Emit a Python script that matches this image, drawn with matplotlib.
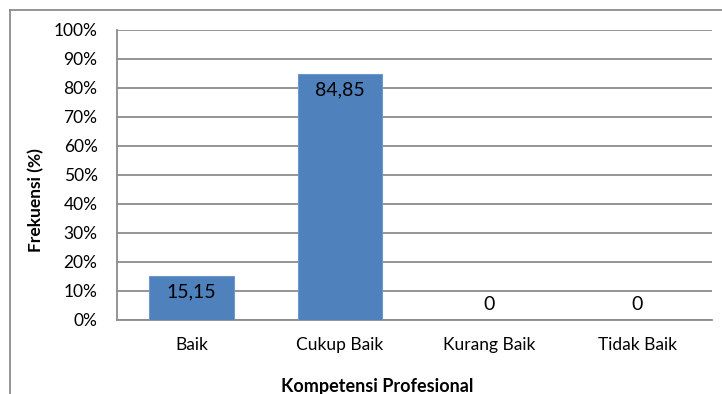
import matplotlib.pyplot as plt
from matplotlib.lines import Line2D
from matplotlib.ticker import FuncFormatter

categories = ['Baik', 'Cukup Baik', 'Kurang Baik', 'Tidak Baik']
values = [15.15, 84.85, 0, 0]
value_labels = ['15,15', '84,85', '0', '0']

plt.rcParams['font.family'] = ['Lato', 'DejaVu Sans']

fig = plt.figure(figsize=(7.22, 3.94), dpi=100)
ax = fig.add_axes([0.162, 0.188, 0.824, 0.736])

x = range(len(categories))
bars = ax.bar(x, values, width=0.57, color='#4F81BD', edgecolor='#6E97CA', linewidth=0.8, zorder=3)

for b, v, lab in zip(bars, values, value_labels):
    if v > 5:
        ax.text(b.get_x() + b.get_width() / 2, v - 2.5, lab, ha='center', va='top', fontsize=14, zorder=4)
    else:
        ax.text(b.get_x() + b.get_width() / 2, 2.5, lab, ha='center', va='bottom', fontsize=14, zorder=4)

ax.set_xlim(-0.5, len(categories) - 0.5)
ax.set_ylim(0, 100)
ax.set_yticks(range(0, 101, 10))
ax.yaxis.set_major_formatter(FuncFormatter(lambda v, p: f'{int(v)}%'))
ax.set_xticks(list(x))
ax.set_xticklabels(categories)
ax.tick_params(axis='both', length=0, labelsize=12.5)
ax.tick_params(axis='x', pad=12)
ax.tick_params(axis='y', pad=14)

ax.grid(axis='y', color='#8C8C8C', linewidth=1.3, zorder=0)
for s in ['top', 'right']:
    ax.spines[s].set_visible(False)
for s in ['left', 'bottom']:
    ax.spines[s].set_color('#8C8C8C')
    ax.spines[s].set_linewidth(1.3)

# axis titles are centred on the whole chart frame, not the plot area
ax.set_xlabel('Kompetensi Profesional', fontweight='bold', fontsize=13, labelpad=14)
ax.xaxis.set_label_coords(0.437, -0.2)
ax.set_ylabel('Frekuensi (%)', fontweight='bold', fontsize=12.5)
ax.yaxis.set_label_coords(-0.122, 0.414)

# outer chart frame (cut off on the right and bottom)
fig.add_artist(Line2D([10 / 722, 10 / 722], [0, 1 - 10 / 394], color='#8C8C8C', linewidth=1.3, transform=fig.transFigure))
fig.add_artist(Line2D([10 / 722, 1], [1 - 10 / 394, 1 - 10 / 394], color='#8C8C8C', linewidth=1.3, transform=fig.transFigure))

fig.savefig('out.png', dpi=100, facecolor='white')
